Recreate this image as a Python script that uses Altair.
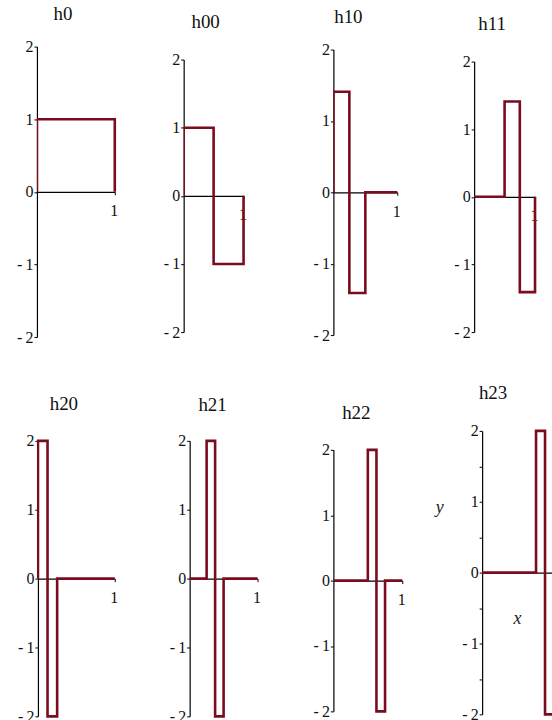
import altair as alt
import pandas as pd

# Haar basis functions on [0, 1]: breakpoints and the constant level on each piece
names = ["h0", "h00", "h10", "h11", "h20", "h21", "h22", "h23"]
edges = [
    [0, 1],
    [0, 0.5, 1],
    [0, 0.25, 0.5, 1],
    [0, 0.5, 0.75, 1],
    [0, 0.125, 0.25, 1],
    [0, 0.25, 0.375, 0.5, 1],
    [0, 0.5, 0.625, 0.75, 1],
    [0, 0.75, 0.875, 1],
]
levels = [
    [1],
    [1, -1],
    [1.41, -1.41, 0],
    [0, 1.41, -1.41],
    [2, -2, 0],
    [0, 2, -2, 0],
    [0, 2, -2, 0],
    [0, 2, -2],
]
y_ticks = [-2, -1, 0, 1, 2]
y_ticks_fine = [-2, -1.5, -1, -0.5, 0, 0.5, 1, 1.5, 2]
x_ticks = [1]

# panel geometry (pixels): cell size, inset of the y axis inside the cell, visible part of x,
# length of [0,1] on x, pixel rows of y=-2 / y=2 inside the cell
cell_w = [147, 150, 141, 78, 147, 150, 141, 78]
row_h = [393, 393, 393, 393, 300, 300, 300, 300]
inset = [0, 0, 0, 0, 1, 6, 0, 8]
x_max = [1, 1, 1, 1, 1, 1, 1, 0.972]
x_len = [78, 60, 64, 61, 77, 68, 69, 70]
y_lo = [304, 299, 302, 299, 291, 291, 286, 289]
y_hi = [13, 26, 16, 28, 15, 15, 24, 5]
title_dx = [26, 22, 15, 18, 27, 29, 23, 19]
title_dy = [-10, -2, -7, 0, -12, -11, -3, -20]

SERIF = "Liberation Serif"
LINE = "#7a0c1e"

Y_LABELS = (
    "datum.value != floor(datum.value) ? '' : "
    "(datum.value < 0 ? '-\u2009' + format(-datum.value, 'd') : format(datum.value, 'd'))"
)


def step_path(e, lv):
    """Vertices of the piecewise-constant graph, closed down to zero at both ends."""
    xs, ys = [e[0]], [0]
    for i, v in enumerate(lv):
        xs += [e[i], e[i + 1]]
        ys += [v, v]
    xs.append(e[-1])
    ys.append(0)
    return pd.DataFrame({"x": xs, "y": ys, "k": list(range(len(xs)))})


def panel(i):
    last = names[i] == "h23"
    h = row_h[i]
    zero = (y_lo[i] + y_hi[i]) / 2
    d = inset[i]

    x_axis_kw = dict(
        values=[v for v in x_ticks if v <= x_max[i]],
        offset=-(h - zero),
        labelFlush=False,
        labelOffset=-1,
        labelPadding=8,
        tickSize=3,
        grid=False,
    )
    y_axis_kw = dict(
        values=y_ticks_fine if last else y_ticks,
        labelExpr=Y_LABELS,
        labelPadding=1,
        tickSize=3,
        grid=False,
        labelOverlap=False,
        offset=-d,
    )
    if last:
        x_axis_kw.update(title="x", titleX=35 + d, titleY=46, titleAlign="center",
                         titleBaseline="middle", titleFont=SERIF, titleFontStyle="italic",
                         titleFontWeight="normal", titleFontSize=18, titleColor="#222")
        y_axis_kw.update(title="y", titleAngle=0, titleX=-43, titleY=82, titleAlign="center",
                         titleBaseline="middle", titleFont=SERIF, titleFontStyle="italic",
                         titleFontWeight="normal", titleFontSize=18, titleColor="#222")
    else:
        x_axis_kw.update(title=None)
        y_axis_kw.update(title=None)

    return (
        alt.Chart(step_path(edges[i], levels[i]))
        .mark_line(color=LINE, strokeWidth=2.6, clip=True)
        .encode(
            x=alt.X("x:Q",
                    scale=alt.Scale(domain=[0, x_max[i]], range=[d, d + x_len[i]], nice=False),
                    axis=alt.Axis(**x_axis_kw)),
            y=alt.Y("y:Q",
                    scale=alt.Scale(domain=[-2, 2], range=[y_lo[i], y_hi[i]], nice=False),
                    axis=alt.Axis(**y_axis_kw)),
            order="k:Q",
        )
        .properties(
            width=cell_w[i],
            height=h,
            title=alt.TitleParams(
                text=names[i], anchor="start", align="center", dx=title_dx[i], dy=title_dy[i],
                offset=0, frame="group", font=SERIF, fontSize=19, fontWeight="normal",
                color="#111",
            ),
        )
    )


chart = (
    alt.concat(*[panel(i) for i in range(len(names))], columns=4, spacing=0,
               bounds="flush", align="none")
    .properties(padding={"left": 16, "top": 4, "right": 0, "bottom": 0})
    .configure_view(stroke=None)
    .configure_axis(
        labelFont=SERIF,
        labelFontSize=16,
        labelColor="#111",
        domainColor="#000",
        tickColor="#000",
        domainWidth=1.2,
        tickWidth=1,
    )
)

chart.save("out.html", embed_options={"renderer": "svg", "actions": False})
